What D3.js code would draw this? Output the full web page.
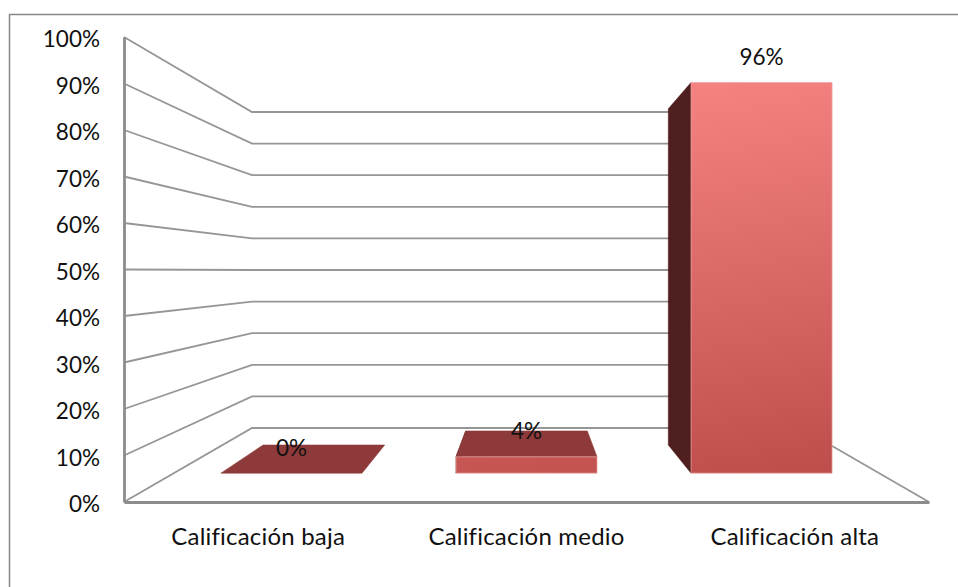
<!DOCTYPE html>
<html>
<head>
<meta charset="utf-8">
<script src="https://cdn.jsdelivr.net/npm/d3@7"></script>
<style>
  body { margin: 0; background: #fff; }
  text { font-family: Lato, "Open Sans", sans-serif; font-size: 22.5px; fill: #111; }
</style>
</head>
<body>
<script>
var categories = ["Calificación baja", "Calificación medio", "Calificación alta"];
var values = [0, 4, 96];
var yTicks = [0, 10, 20, 30, 40, 50, 60, 70, 80, 90, 100];

var width = 958, height = 587;

// front plane of the 3d box, and the back wall it shrinks to
var front = { left: 124, right: 929, bottom: 502, top: 37 };
var back = { left: 252, right: 801, bottom: 428, top: 112 };
// bars stand between these two depths (0 = front, 1 = back)
var barFront = 0.39, barBack = 0.77;

var x = d3.scaleBand().domain(categories).range([front.left, front.right])
  .paddingInner(0.4).paddingOuter(0.2);
var y = d3.scaleLinear().domain([0, 100]).range([front.bottom, front.top]);

function lerp(a, b, t) {
  return a + (b - a) * t;
}

// project a front plane x and a value onto the plane at the given depth
function project(px, v, depth) {
  var u = (px - front.left) / (front.right - front.left);
  var left = lerp(front.left, back.left, depth);
  var right = lerp(front.right, back.right, depth);
  var bottom = lerp(front.bottom, back.bottom, depth);
  var top = lerp(front.top, back.top, depth);
  return [lerp(left, right, u), bottom + (top - bottom) * v / 100];
}

function val(d) {
  return values[categories.indexOf(d)];
}

var svg = d3.select("body").append("svg")
  .attr("width", width)
  .attr("height", height)
  .style("display", "block");

var defs = svg.append("defs");
var grad = defs.append("linearGradient")
  .attr("id", "barFill")
  .attr("gradientUnits", "userSpaceOnUse")
  .attr("x1", 700).attr("y1", 83)
  .attr("x2", 760).attr("y2", 473);
grad.append("stop").attr("offset", "0%").attr("stop-color", "#f58280");
grad.append("stop").attr("offset", "100%").attr("stop-color", "#bf4f4d");

// outer frame, only top and left are visible
svg.append("path")
  .attr("d", "M9.5,587V14.5H958")
  .attr("fill", "none")
  .attr("stroke", "#868686")
  .attr("stroke-width", 1.5);

var line = d3.line();

// grid lines along side wall and back wall
svg.append("g").selectAll("path")
  .data(yTicks)
  .enter()
  .append("path")
  .attr("d", function(d) {
    return line([project(front.left, d, 0), project(front.left, d, 1), project(front.right, d, 1)]);
  })
  .attr("fill", "none")
  .attr("stroke", "#969696")
  .attr("stroke-width", 1.8);

// right edge of the floor
svg.append("path")
  .attr("d", line([project(front.right, 0, 1), project(front.right, 0, 0)]))
  .attr("fill", "none")
  .attr("stroke", "#969696")
  .attr("stroke-width", 1.8);

var bars = svg.append("g").selectAll("g")
  .data(categories)
  .enter()
  .append("g");

function face(sel, pts, fill) {
  sel.append("path")
    .attr("d", function(d) { return line(pts(d)) + "Z"; })
    .attr("fill", fill)
    .attr("stroke", fill)
    .attr("stroke-width", 0.6);
}

// side face
face(bars.filter(function(d) { return val(d) > 0; }), function(d) {
  var x0 = x(d);
  return [project(x0, 0, barFront), project(x0, val(d), barFront), project(x0, val(d), barBack), project(x0, 0, barBack)];
}, "#4f1f1f");

// top face, seen only while the top is below eye level
face(bars.filter(function(d) { return project(x(d), val(d), barBack)[1] < project(x(d), val(d), barFront)[1]; }), function(d) {
  var v = val(d), x0 = x(d), x1 = x0 + x.bandwidth();
  return [project(x0, v, barFront), project(x1, v, barFront), project(x1, v, barBack), project(x0, v, barBack)];
}, "#8e3a3a");

// front face
bars.filter(function(d) { return val(d) > 0; })
  .append("path")
  .attr("d", function(d) {
    var v = val(d), x0 = x(d), x1 = x0 + x.bandwidth();
    return line([project(x0, 0, barFront), project(x1, 0, barFront), project(x1, v, barFront), project(x0, v, barFront)]) + "Z";
  })
  .attr("fill", "url(#barFill)")
  .attr("stroke", "#eda5a3")
  .attr("stroke-width", 0.7);

// axes
var yAxis = svg.append("g")
  .attr("transform", "translate(" + front.left + ",0)")
  .call(d3.axisLeft(y).tickValues(yTicks).tickSize(0).tickPadding(24).tickFormat(function(d) { return d + "%"; }));
yAxis.select(".domain").attr("stroke", "#8c8c8c").attr("stroke-width", 2.8);
yAxis.selectAll("text").attr("dy", "0.43em").attr("fill", "#111")
  .style("font-size", "22.5px").style("font-family", "Lato, 'Open Sans', sans-serif");

var xAxis = svg.append("g")
  .attr("transform", "translate(0," + front.bottom + ")")
  .call(d3.axisBottom(x).tickSize(0).tickPadding(26));
xAxis.select(".domain").attr("stroke", "#8c8c8c").attr("stroke-width", 2.8);
xAxis.selectAll("text").attr("fill", "#111")
  .style("font-size", "24px").style("letter-spacing", "0.2px")
  .style("font-family", "Lato, 'Open Sans', sans-serif");

// value labels sit a fixed distance above the front top edge
svg.append("g").selectAll("text")
  .data(categories)
  .enter()
  .append("text")
  .attr("text-anchor", "middle")
  .attr("dominant-baseline", "central")
  .attr("x", function(d) { return project(x(d) + x.bandwidth() / 2, 0, barFront)[0]; })
  .attr("y", function(d) { return project(x(d), val(d), barFront)[1] - 26; })
  .text(function(d) { return val(d) + "%"; });
</script>
</body>
</html>
